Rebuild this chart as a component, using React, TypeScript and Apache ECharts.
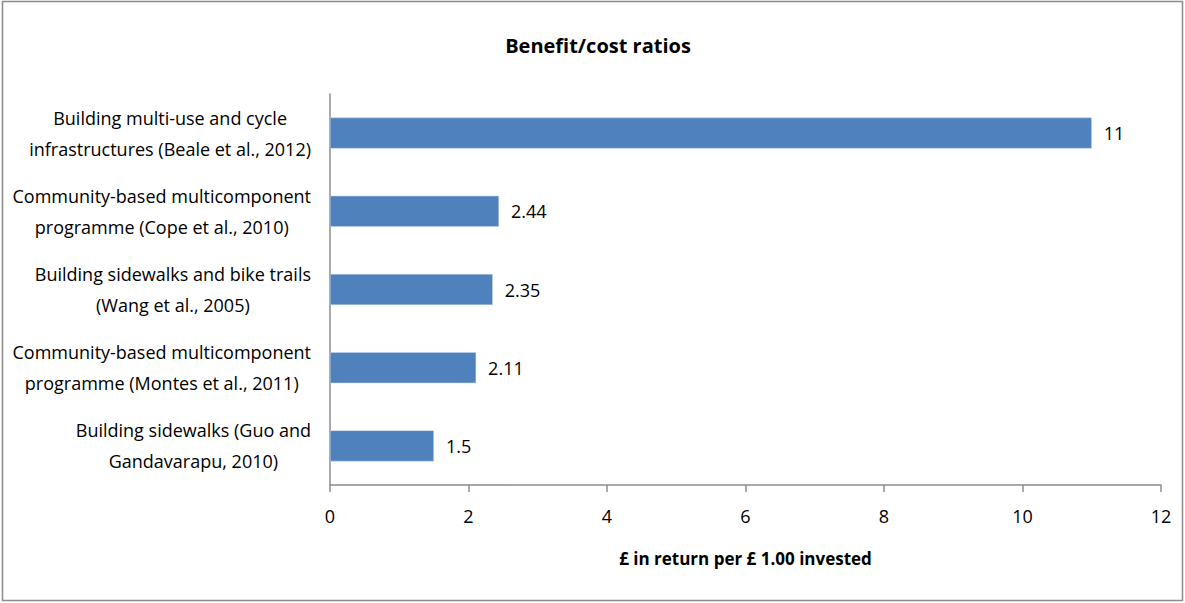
import React, { useEffect, useRef } from "react";
import * as echarts from "echarts";

const categories: string[][] = [
  ["Building sidewalks (Guo and", "Gandavarapu, 2010)"],
  ["Community-based multicomponent", "programme (Montes et al., 2011)"],
  ["Building sidewalks and bike trails", "(Wang et al., 2005)"],
  ["Community-based multicomponent", "programme (Cope et al., 2010)"],
  ["Building multi-use and cycle", "infrastructures (Beale et al., 2012)"],
];
const values: number[] = [1.5, 2.11, 2.35, 2.44, 11];
const title = "Benefit/cost ratios";
const xAxisTitle = "£ in return per £ 1.00 invested";

const FONT = "'Open Sans', 'Noto Sans', sans-serif";

export default function App() {
  const ref = useRef<HTMLDivElement>(null);
  useEffect(() => {
    document.body.style.margin = "0";
    const chart = echarts.init(ref.current!, null, { renderer: "svg" });
    chart.setOption({
      animation: false,
      backgroundColor: "#ffffff",
      textStyle: { fontFamily: FONT },
      title: {
        text: title,
        left: 593,
        textAlign: "center",
        top: 30,
        textStyle: { fontFamily: FONT, fontSize: 20, fontWeight: "bold", color: "#000" },
      },
      graphic: [
        {
          type: "rect",
          shape: { x: 2.5, y: 1.5, width: 1180, height: 599 },
          style: { fill: "none", stroke: "#8c8c8c", lineWidth: 1.5 },
          silent: true,
        },
      ],
      grid: { left: 330, right: 24, top: 94, bottom: 118, containLabel: false },
      xAxis: {
        type: "value",
        min: 0,
        max: 12,
        interval: 2,
        name: xAxisTitle,
        nameLocation: "middle",
        nameGap: 65,
        nameTextStyle: { fontFamily: FONT, fontSize: 17, fontWeight: "bold", color: "#000" },
        axisLine: { show: true, lineStyle: { color: "#8c8c8c", width: 1.5 } },
        axisTick: { show: true, length: 7, lineStyle: { color: "#8c8c8c", width: 1.5 } },
        axisLabel: { fontFamily: FONT, fontSize: 18, color: "#000", margin: 22 },
        splitLine: { show: false },
      },
      yAxis: {
        type: "category",
        data: categories.map((c) => c.join("\n")),
        axisLine: { show: true, lineStyle: { color: "#8c8c8c", width: 1.5 } },
        axisTick: { show: false },
        axisLabel: {
          margin: 19,
          align: "right",
          color: "#000",
          formatter: (v: string) =>
            v
              .split("\n")
              .map((l) => "{c|" + l + "}")
              .join("\n"),
          rich: {
            c: { align: "center", fontFamily: FONT, fontSize: 18, lineHeight: 31, color: "#000" },
          },
        },
      },
      series: [
        {
          type: "bar",
          data: values,
          barWidth: 31,
          itemStyle: { color: "#4F81BD", borderColor: "#c5d5ea", borderWidth: 0.5 },
          label: {
            show: true,
            position: "right",
            distance: 12,
            fontFamily: FONT,
            fontSize: 18,
            color: "#000",
          },
        },
      ],
    });
    return () => chart.dispose();
  }, []);
  return <div ref={ref} style={{ width: 1185, height: 603 }} />;
}
